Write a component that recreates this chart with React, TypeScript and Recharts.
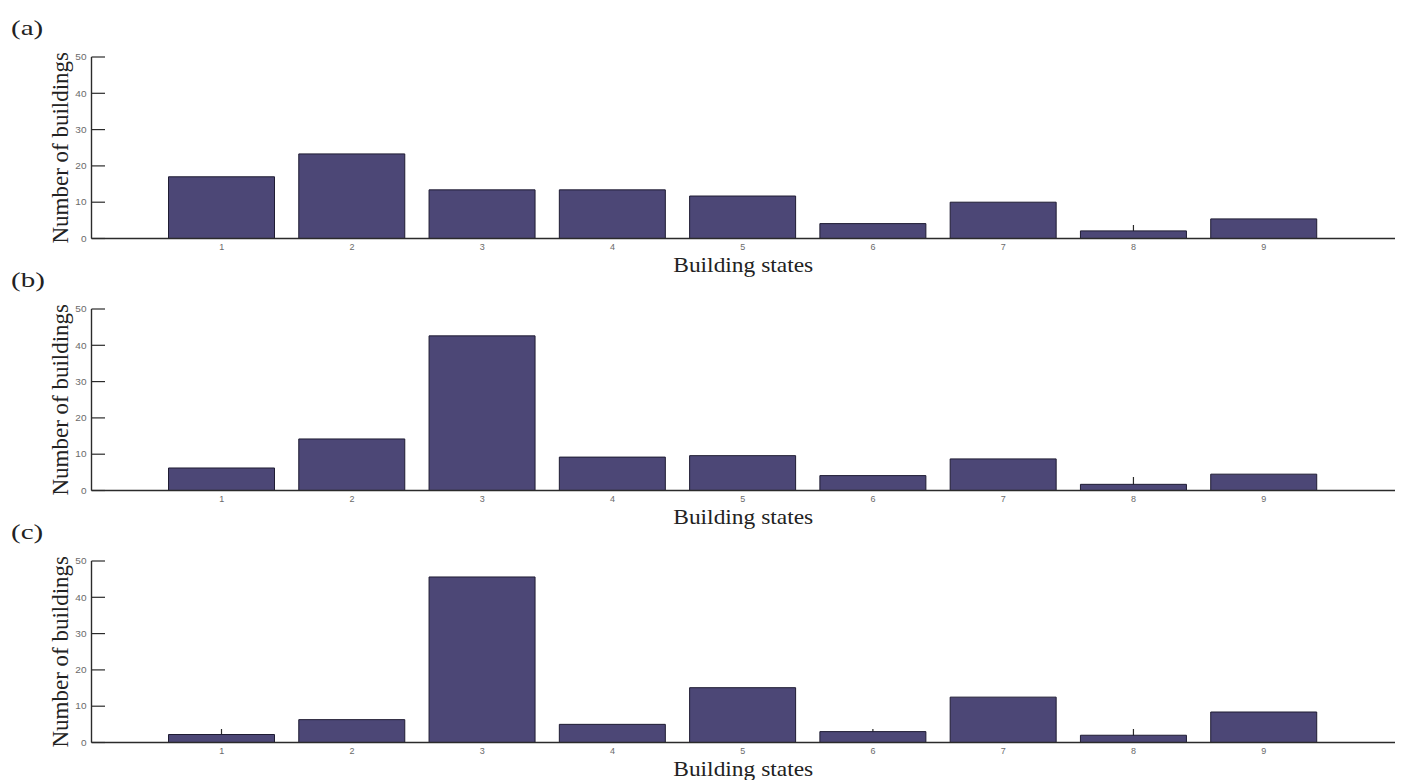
import React from 'react';
import { BarChart, Bar, XAxis, YAxis } from 'recharts';

// Building state counts per scenario
const states = ['1', '2', '3', '4', '5', '6', '7', '8', '9'];
const countsA = [17.0, 23.3, 13.4, 13.4, 11.7, 4.1, 10.0, 2.1, 5.4];
const countsB = [6.2, 14.2, 42.6, 9.2, 9.6, 4.1, 8.7, 1.7, 4.5];
const countsC = [2.2, 6.3, 45.6, 5.0, 15.1, 3.0, 12.5, 2.0, 8.4];
const yTicks = [0, 10, 20, 30, 40, 50];
const panelTags = ['(a)', '(b)', '(c)'];

const BAR_FILL = '#4c4776';
const BAR_EDGE = '#1f1c33';
const AXIS = '#2b2b2b';
const TICK_TEXT = '#6a6a6a';
const SERIF = '"Liberation Serif", "Times New Roman", serif';
const SANS = '"Liberation Sans", Arial, sans-serif';

const WIDTH = 1402;
const PLOT_TOP = 20;
const PLOT_H = 181.5;
const X_AXIS_H = 50;
const CHART_H = PLOT_TOP + PLOT_H + X_AXIS_H;
const TICK_LEN = 13.5;

// inward tick + small gray label on the value axis
function YTick(props: any) {
  const { x, y, payload } = props;
  const axisX = x + 5;
  const label = String(payload.value);
  return (
    <g>
      <line x1={axisX} x2={axisX + TICK_LEN} y1={y} y2={y} stroke={AXIS} strokeWidth={1.2} />
      <text
        x={x}
        y={y}
        dy={3.2}
        textAnchor="end"
        fontSize={8.5}
        fill={TICK_TEXT}
        fontFamily={SANS}
        textLength={label.length * 5.6}
        lengthAdjust="spacingAndGlyphs"
      >
        {label}
      </text>
    </g>
  );
}

// gray category label under the axis
function XTick(props: any) {
  const { x, y, payload } = props;
  return (
    <text x={x} y={y} dy={6.5} textAnchor="middle" fontSize={9} fill={TICK_TEXT} fontFamily={SANS}>
      {payload.value}
    </text>
  );
}

// inward category tick, drawn as the bar background so bars cover it
function CategoryTick(props: any) {
  const { x, y, width, height } = props;
  const cx = x + width / 2;
  const base = y + height;
  return <line x1={cx} x2={cx} y1={base} y2={base - TICK_LEN} stroke={AXIS} strokeWidth={1.2} />;
}

function XLabel(props: any) {
  const { viewBox } = props;
  const cx = viewBox.x + viewBox.width / 2;
  return (
    <text
      x={cx}
      y={viewBox.y + 33}
      textAnchor="middle"
      fontFamily={SERIF}
      fontSize={21}
      fill="#222"
      textLength={140}
      lengthAdjust="spacingAndGlyphs"
    >
      Building states
    </text>
  );
}

function StatePanel({ counts, top, tag }: { counts: number[]; top: number; tag: string }) {
  const data = states.map((s, i) => ({ state: s, count: counts[i] }));
  return (
    <>
      <div
        style={{
          position: 'absolute',
          left: 11,
          top: top - 20,
          fontFamily: SERIF,
          fontSize: 22,
          color: '#222',
          lineHeight: 1,
          transform: 'scaleX(1.32)',
          transformOrigin: 'left top',
        }}
      >
        {tag}
      </div>
      <div style={{ position: 'absolute', left: 0, top }}>
        <BarChart
          width={WIDTH}
          height={CHART_H}
          data={data}
          margin={{ top: PLOT_TOP, right: 7, bottom: 0, left: 0 }}
          barCategoryGap={0}
        >
          <XAxis
            dataKey="state"
            height={X_AXIS_H}
            padding={{ left: 65, right: 66 }}
            axisLine={{ stroke: AXIS, strokeWidth: 1.4 }}
            tickLine={false}
            tickSize={0}
            tickMargin={4.5}
            interval={0}
            tick={<XTick />}
            label={<XLabel />}
          />
          <YAxis
            type="number"
            domain={[0, 50]}
            ticks={yTicks}
            width={91.5}
            axisLine={{ stroke: AXIS, strokeWidth: 1.4 }}
            tickLine={false}
            tickSize={0}
            tickMargin={5}
            tick={<YTick />}
            label={{
              value: 'Number of buildings',
              angle: -90,
              position: 'insideLeft',
              offset: 60,
              style: { textAnchor: 'middle', fontFamily: SERIF, fontSize: 23, fill: '#222' },
            }}
          />
          <Bar
            dataKey="count"
            fill={BAR_FILL}
            stroke={BAR_EDGE}
            strokeWidth={1}
            barSize={106}
            background={<CategoryTick />}
            isAnimationActive={false}
          />
        </BarChart>
      </div>
    </>
  );
}

export default function App() {
  const panelTops = [37.3, 288.7, 541];
  const panels = [countsA, countsB, countsC];
  return (
    <div
      style={{
        position: 'absolute',
        left: 0,
        top: 0,
        width: WIDTH,
        height: 780,
        background: '#fff',
        overflow: 'hidden',
      }}
    >
      {panels.map((counts, i) => (
        <StatePanel key={panelTags[i]} counts={counts} top={panelTops[i]} tag={panelTags[i]} />
      ))}
    </div>
  );
}
